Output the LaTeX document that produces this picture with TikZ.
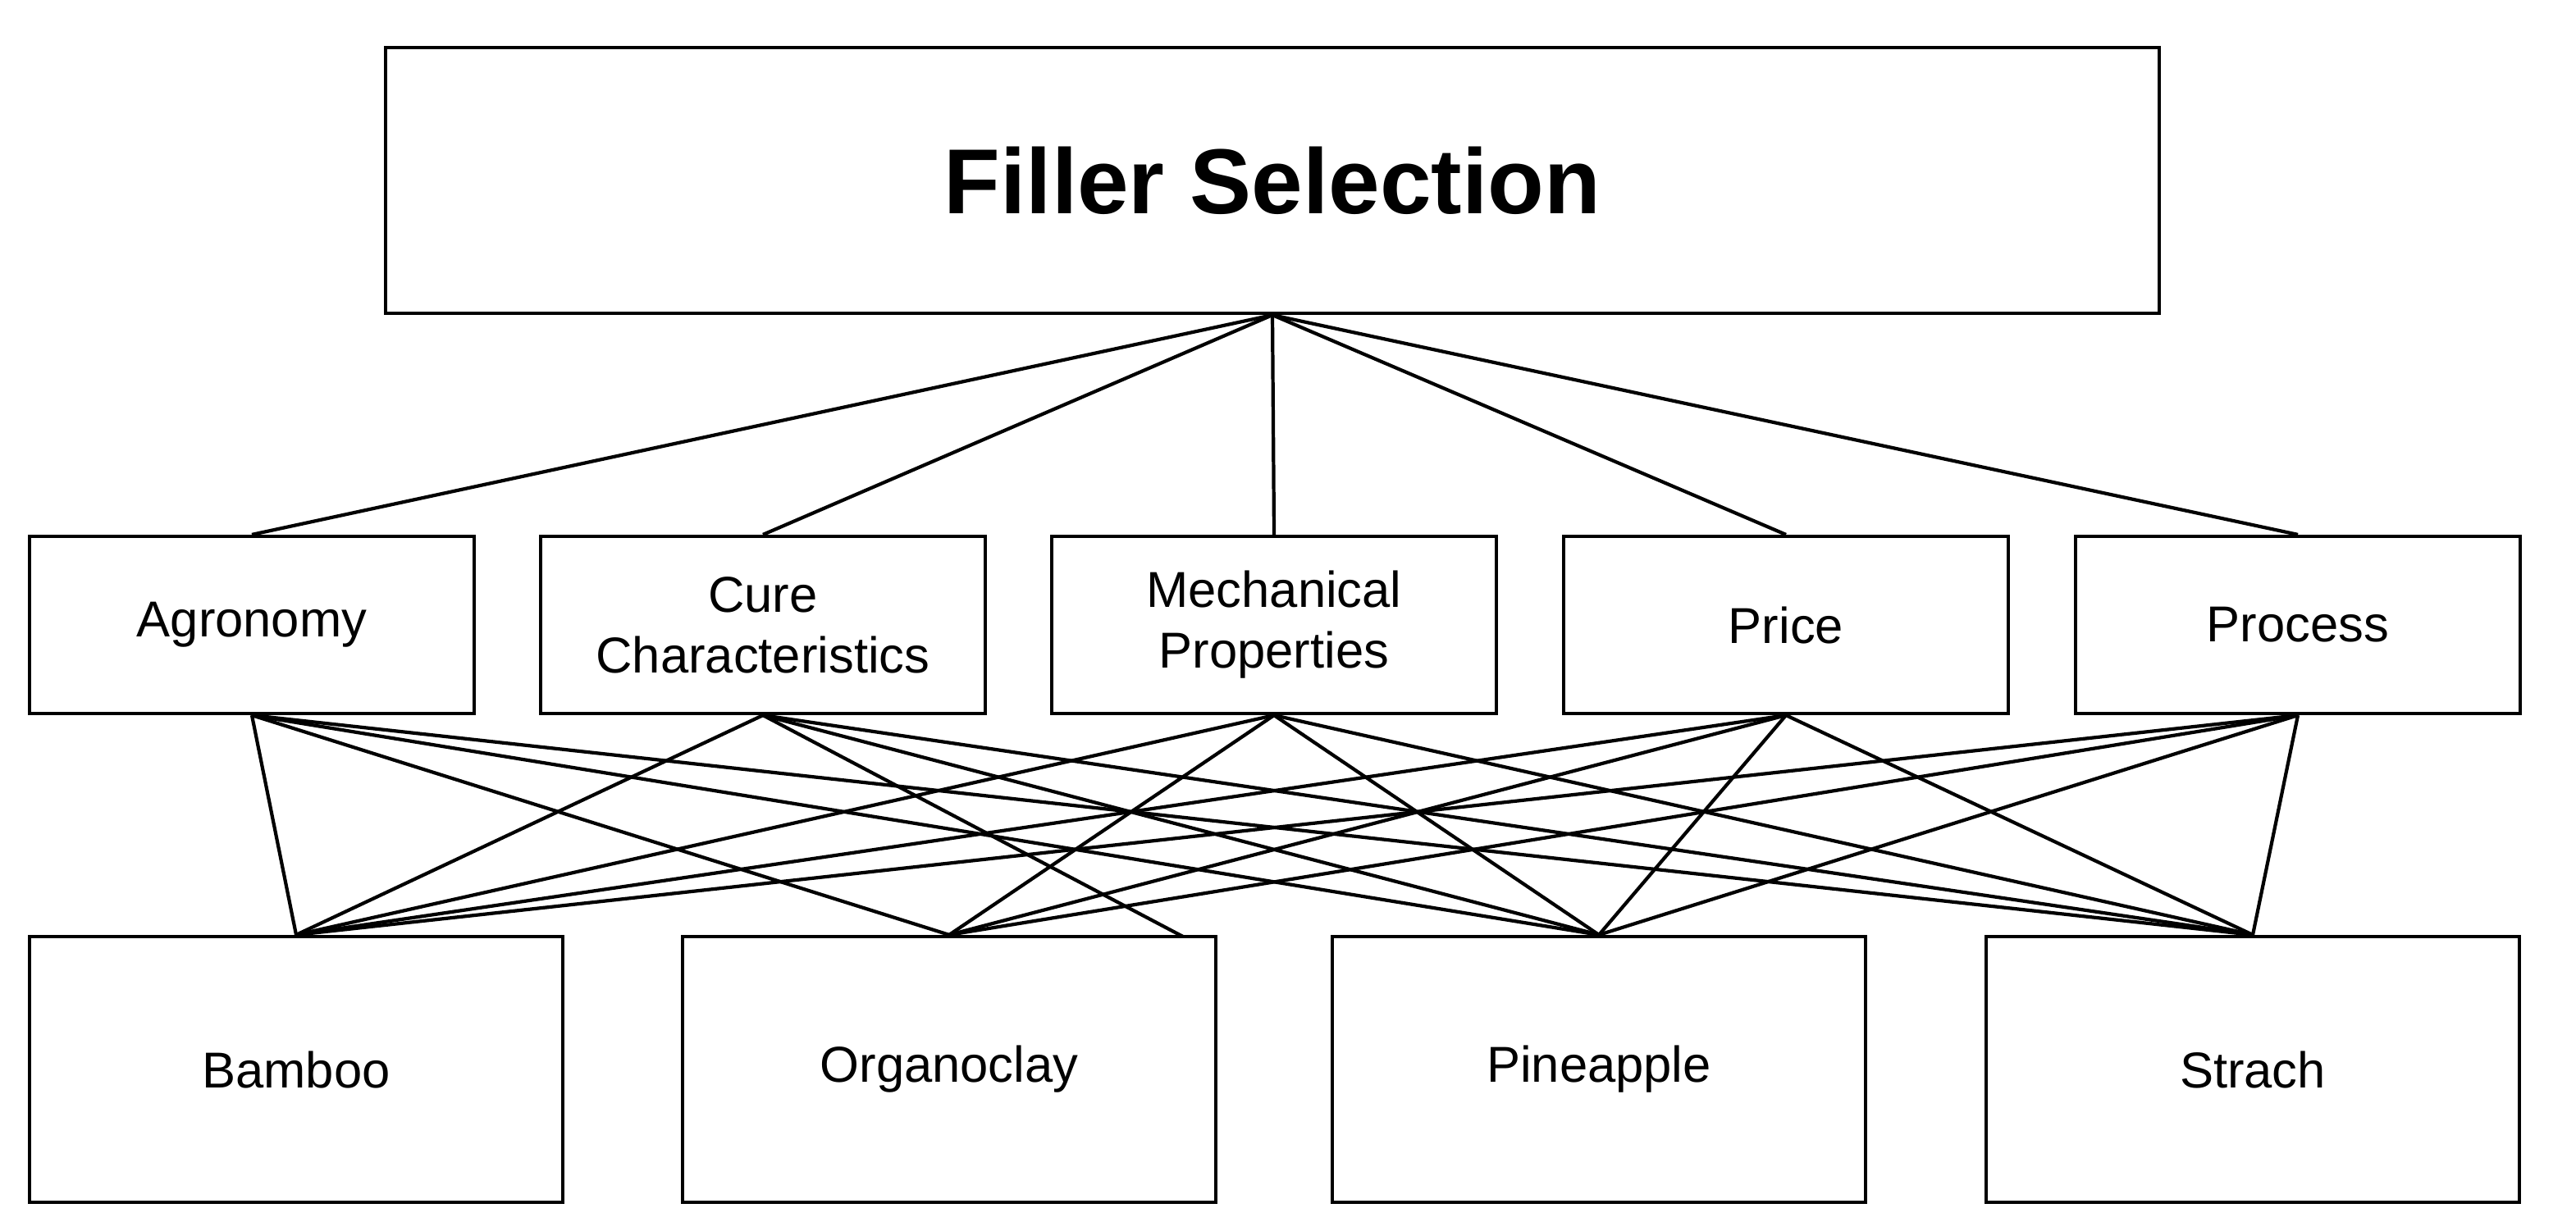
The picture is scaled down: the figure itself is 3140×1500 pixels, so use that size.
\documentclass[tikz,border=0pt]{standalone}
\usepackage{fontspec}
\setmainfont{Liberation Sans}
\begin{document}
\begin{tikzpicture}[x=0.01cm,y=-0.01cm,
  box/.style={draw,line width=1.2pt,inner sep=0pt,align=center,font=\fontsize{17.5}{21}\selectfont},
  ln/.style={line width=1.2pt}]
\useasboundingbox (0,0) rectangle (3140,1500);
\node[box,minimum width=2162*0.01cm,minimum height=324*0.01cm,font=\fontsize{32}{38}\selectfont\bfseries] (top) at (1551,220) {Filler Selection};
\foreach \n/\x/\t in {a/307/Agronomy,c/930/{Cure\\Characteristics},m/1553/{Mechanical\\Properties},p/2177/Price,r/2801/Process}{
  \node[box,minimum width=542*0.01cm,minimum height=216*0.01cm] (\n) at (\x,762) {\t};
  \draw[ln] (top.south) -- (\n.north);
}
\foreach \n/\x/\t in {b/361/Bamboo,o/1157/Organoclay,i/1949/Pineapple,s/2746/Strach}{
  \node[box,minimum width=650*0.01cm,minimum height=324*0.01cm] (\n) at (\x,1304) {\t};
}
\coordinate (oc) at (1442,1142);
\foreach \u in {a,m,p,r}{
  \foreach \v in {b,o,i,s}{ \draw[ln] (\u.south) -- (\v.north); }
}
\foreach \v in {b,i,s}{ \draw[ln] (c.south) -- (\v.north); }
\draw[ln] (c.south) -- (oc);
\end{tikzpicture}
\end{document}
